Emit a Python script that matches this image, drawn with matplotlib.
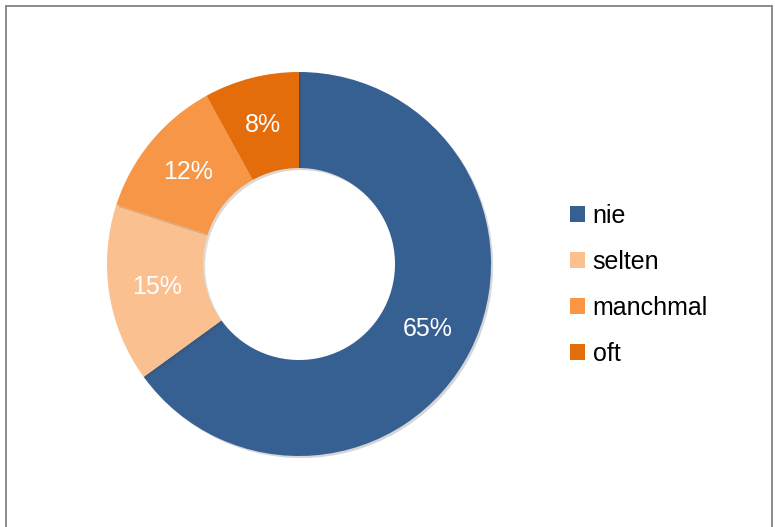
import matplotlib
matplotlib.use("Agg")
import matplotlib.pyplot as plt
import matplotlib.patches as mpatches
import matplotlib.patheffects as pe

plt.rcParams["font.family"] = ["Liberation Sans", "DejaVu Sans"]

# ── Daten ──────────────────────────────────────────────────────────────────
labels = ["nie", "selten", "manchmal", "oft"]
values = [65, 15, 12, 8]
colors = ["#376092", "#FAC090", "#F79646", "#E46C0A"]

W, H = 775, 527
fig = plt.figure(figsize=(W / 100, H / 100), dpi=100)

# Rahmen (unten offen, läuft über den Bildrand)
frame = mpatches.Rectangle((6 / W, -0.05), (772 - 6) / W, 1 - 6 / H + 0.05,
                           transform=fig.transFigure, fill=False,
                           edgecolor="#8a8a8a", linewidth=1.4)
fig.patches.append(frame)

# Donut: Mittelpunkt (299, 264) px, Radius 192 px
cx, cy, r = 299, 264, 192
ax = fig.add_axes([(cx - r) / W, (H - cy - r) / H, 2 * r / W, 2 * r / H])

wedges, texts, autotexts = ax.pie(
    values,
    colors=colors,
    startangle=90,
    counterclock=False,
    autopct="%1.0f%%",
    pctdistance=0.75,
    wedgeprops={"width": 0.5, "linewidth": 0},
    textprops={"color": "white", "fontsize": 18},
)
for w in wedges:
    w.set_path_effects([pe.SimplePatchShadow(offset=(1.5, -1.5), alpha=0.18),
                        pe.Normal()])
ax.set_xlim(-1.0, 1.0)
ax.set_ylim(-1.0, 1.0)
ax.set_aspect("equal")
ax.axis("off")

handles = [mpatches.Patch(facecolor=c, edgecolor="none", label=l)
           for c, l in zip(colors, labels)]
fig.legend(handles=handles, loc="center left",
           bbox_to_anchor=(570 / W, 1 - 285 / H),
           frameon=False, fontsize=18,
           handlelength=0.6, handleheight=0.6,
           handletextpad=0.3, labelspacing=0.88,
           borderpad=0, borderaxespad=0)

fig.savefig("out.png", dpi=100)
